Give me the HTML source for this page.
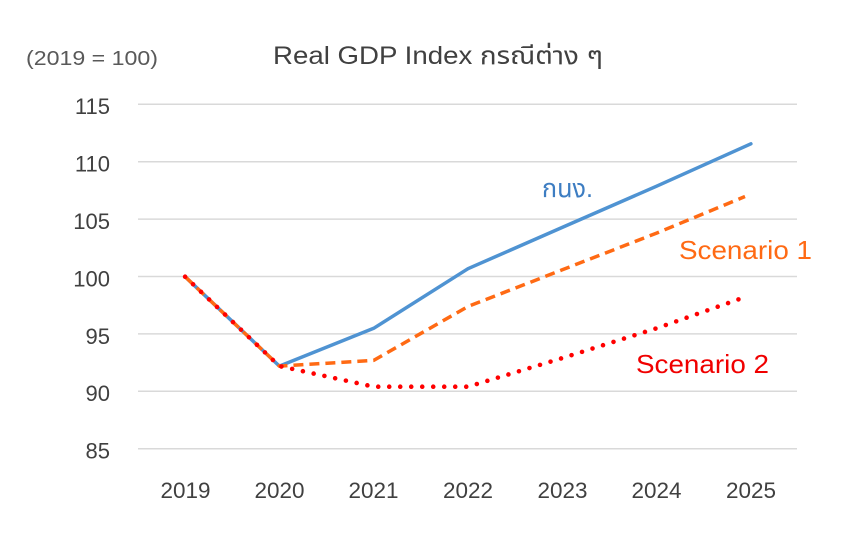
<!DOCTYPE html>
<html>
<head>
<meta charset="utf-8">
<style>
  html, body { margin:0; padding:0; background:#ffffff; }
  svg { display:block; }
  text { font-family: "Liberation Sans", "Noto Sans Thai", "Garuda", "Loma", "Tlwg Typo", "DejaVu Sans", "Noto Sans CJK SC", sans-serif; }
</style>
</head>
<body>
<svg width="850" height="555" viewBox="0 0 850 555" xmlns="http://www.w3.org/2000/svg">
  <rect width="850" height="555" fill="#ffffff"/>

  <!-- titles -->
  <text x="26" y="65" font-size="20" fill="#595959" textLength="132" lengthAdjust="spacingAndGlyphs">(2019 = 100)</text>
  <text x="273" y="64" font-size="25" fill="#404040" textLength="330" lengthAdjust="spacingAndGlyphs">Real GDP Index กรณีต่าง ๆ</text>

  <!-- gridlines -->
  <g stroke="#d9d9d9" stroke-width="1.5">
    <line x1="138" y1="104.3" x2="797" y2="104.3"/>
    <line x1="138" y1="161.7" x2="797" y2="161.7"/>
    <line x1="138" y1="219.1" x2="797" y2="219.1"/>
    <line x1="138" y1="276.5" x2="797" y2="276.5"/>
    <line x1="138" y1="333.9" x2="797" y2="333.9"/>
    <line x1="138" y1="391.3" x2="797" y2="391.3"/>
    <line x1="138" y1="448.7" x2="797" y2="448.7"/>
  </g>

  <!-- y labels -->
  <g font-size="22" fill="#404040" text-anchor="end">
    <text x="110" y="114">115</text>
    <text x="110" y="171.5">110</text>
    <text x="110" y="229">105</text>
    <text x="110" y="286.5">100</text>
    <text x="110" y="344">95</text>
    <text x="110" y="401">90</text>
    <text x="110" y="458.5">85</text>
  </g>

  <!-- x labels -->
  <g font-size="22" fill="#404040" text-anchor="middle">
    <text x="185.5" y="498" textLength="50" lengthAdjust="spacingAndGlyphs">2019</text>
    <text x="279.5" y="498" textLength="50" lengthAdjust="spacingAndGlyphs">2020</text>
    <text x="373.5" y="498" textLength="50" lengthAdjust="spacingAndGlyphs">2021</text>
    <text x="468" y="498" textLength="50" lengthAdjust="spacingAndGlyphs">2022</text>
    <text x="562.5" y="498" textLength="50" lengthAdjust="spacingAndGlyphs">2023</text>
    <text x="656.5" y="498" textLength="50" lengthAdjust="spacingAndGlyphs">2024</text>
    <text x="751" y="498" textLength="50" lengthAdjust="spacingAndGlyphs">2025</text>
  </g>

  <!-- series -->
  <polyline fill="none" stroke="#4f93d2" stroke-width="3.5" stroke-linejoin="round" stroke-linecap="round"
    points="185.1,276.7 279.4,366.1 373.7,328.3 468,268.7 562.3,227.4 656.6,186.2 750.9,143.8"/>
  <polyline fill="none" stroke="#ff6a14" stroke-width="3.5" stroke-linejoin="round" stroke-dasharray="10 6"
    points="185.1,276.7 279.4,366.1 373.7,360.4 468,306.5 562.3,269.8 656.6,233.1 745,196.5"/>
  <polyline fill="none" stroke="#ff0000" stroke-width="4.6" stroke-linejoin="round" stroke-linecap="round" stroke-dasharray="0 11"
    points="185.1,276.7 279.4,366.1 373.7,386.7 468,386.7 562.3,358.1 656.6,328.3 741,298.5"/>

  <!-- series labels -->
  <text x="542" y="197" font-size="26" fill="#3d7dc2" textLength="51" lengthAdjust="spacingAndGlyphs">กนง.</text>
  <text x="679" y="259" font-size="26" fill="#ff6a14" textLength="133" lengthAdjust="spacingAndGlyphs">Scenario 1</text>
  <text x="636" y="373" font-size="26" fill="#f00000" textLength="133" lengthAdjust="spacingAndGlyphs">Scenario 2</text>
</svg>
</body>
</html>
